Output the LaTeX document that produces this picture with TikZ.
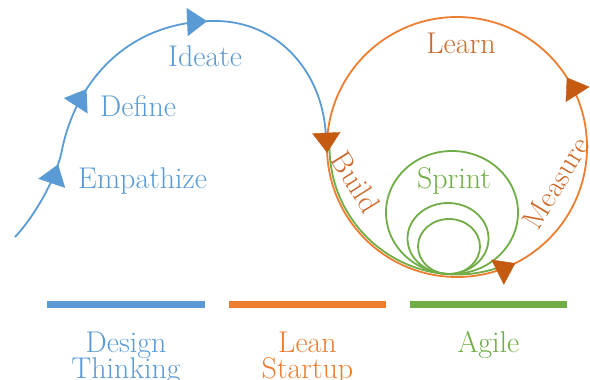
\documentclass[tikz,border=0pt]{standalone}
\usetikzlibrary{arrows.meta,decorations.markings}
\definecolor{dtblue}{HTML}{5B9BD5}
\definecolor{lsorange}{HTML}{ED7D31}
\definecolor{lsdark}{HTML}{C55A11}
\definecolor{lstext}{HTML}{CC6A2C}
\definecolor{aggreen}{HTML}{70AD47}
\tikzset{
  lbl/.style={font=\fontsize{30}{32}\selectfont, inner sep=0pt},
  blueline/.style={draw=dtblue, line width=1.8pt},
  orangeline/.style={draw=lsorange, line width=1.8pt},
  greenline/.style={draw=aggreen, line width=1.8pt},
  bar/.style={line width=7pt},
}
\begin{document}
\begin{tikzpicture}[x=1pt,y=-1pt]
\useasboundingbox (0,0) rectangle (590,380);

% coordinates
\coordinate (b0) at (15,237);
\coordinate (b1) at (62,150);
\coordinate (b2) at (215,21);
\coordinate (b3) at (326,140);
\coordinate (ctop) at (457,17);
\coordinate (gstart) at (329.5,147);

% green sprint circles
\draw[greenline] (452,212.5) ellipse[x radius=66pt, y radius=61.5pt];
\draw[greenline] (448,238.5) ellipse[x radius=40.5pt, y radius=35.5pt];
\draw[greenline] (449,246.5) ellipse[x radius=31pt, y radius=27.5pt];

% blue design-thinking curve
\draw[blueline, postaction={decorate, decoration={markings,
    mark=at position 85pt with {\arrow{Triangle[length=20pt,width=28pt,color=dtblue]}},
    mark=at position 166pt with {\arrow{Triangle[length=20pt,width=28pt,color=dtblue]}},
    mark=at position 310pt with {\arrow{Triangle[length=20pt,width=28pt,color=dtblue]}}}}]
  (b0) .. controls (33,218) and (56,180) .. (b1)
       .. controls (75,85) and (125,21) .. (b2)
       .. controls (280,21) and (325,75) .. (b3);

% orange lean-startup circle
\draw[orangeline] (ctop) arc[start angle=90, end angle=450, radius=130pt];
% green build arc
\draw[greenline] (gstart) arc[start angle=180, end angle=288, radius=127.5pt];
% orange arrows
\path[postaction={decorate, decoration={markings,
    mark=at position 210pt with {\arrow{Triangle[length=20pt,width=28pt,color=lsdark]}},
    mark=at position 469pt with {\arrow{Triangle[length=20pt,width=28pt,color=lsdark]}},
    mark=at position 686pt with {\arrow{Triangle[length=20pt,width=28pt,color=lsdark]}}}}]
  (ctop) arc[start angle=90, end angle=450, radius=130pt];

% bars
\coordinate (dtL) at (47,304); \coordinate (dtR) at (205,304);
\coordinate (lsL) at (229,304); \coordinate (lsR) at (386,304);
\coordinate (agL) at (410,304); \coordinate (agR) at (567,304);
\draw[bar, dtblue] (dtL) -- (dtR);
\draw[bar, lsorange] (lsL) -- (lsR);
\draw[bar, aggreen] (agL) -- (agR);

% labels
\node[lbl, text=dtblue, anchor=base west] (emp) at (78,188) {Empathize};
\node[lbl, text=dtblue, anchor=base west] (def) at (100,116) {Define};
\node[lbl, text=dtblue, anchor=base west] (ide) at (168,66) {Ideate};
\node[lbl, text=lstext, anchor=base] (lrn) at (461,53) {Learn};
\node[lbl, text=lstext, rotate=-58] (bld) at (356,182) {Build};
\node[lbl, text=lstext, rotate=59] (msr) at (556,183) {Measure};
\node[lbl, text=aggreen, anchor=base] (spr) at (454,188) {Sprint};
\node[lbl, text=dtblue, anchor=base] (dt1) at (126,352) {Design};
\node[lbl, text=dtblue, anchor=base] (dt2) at (126,378) {Thinking};
\node[lbl, text=lsorange, anchor=base] (ls1) at (307.5,352) {Lean};
\node[lbl, text=lsorange, anchor=base] (ls2) at (307.5,378) {Startup};
\node[lbl, text=aggreen, anchor=base] (ag1) at (488.5,352) {Agile};
\end{tikzpicture}
\end{document}
